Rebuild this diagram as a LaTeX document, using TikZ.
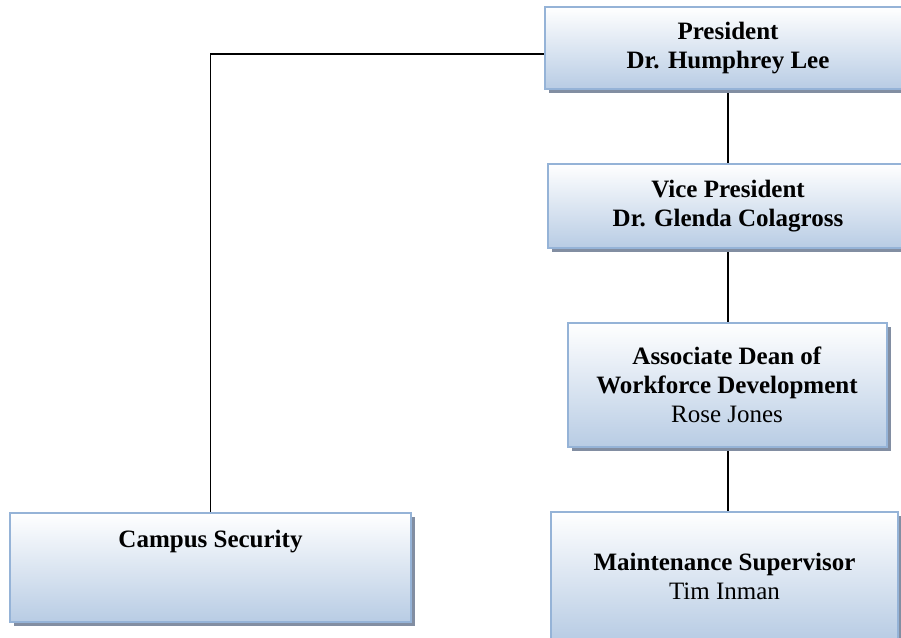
\documentclass[tikz,border=0pt]{standalone}
\usepackage{fontspec}
\setmainfont{Liberation Serif}
\usetikzlibrary{shadows,backgrounds}
\definecolor{boxline}{RGB}{149,179,215}
\definecolor{boxbottom}{RGB}{184,204,228}
\definecolor{shadowgray}{RGB}{130,142,162}
\tikzset{
  orgbox/.style={rectangle, draw=boxline, line width=2pt,
    top color=white, bottom color=boxbottom,
    drop shadow={shadow xshift=4pt, shadow yshift=-4pt, fill=shadowgray, opacity=1},
    align=center, font=\fontsize{25}{29}\selectfont, inner sep=0pt},
  link/.style={draw=black, line width=1.2pt}
}
\begin{document}
\begin{tikzpicture}[x=1pt,y=-1pt]
\useasboundingbox (0,0) rectangle (901,637);
\clip (0,0) rectangle (901,637);
\node[orgbox, minimum width=366pt, minimum height=82pt] (pres) at (728,48)
  {\textbf{President}\\\textbf{Dr. Humphrey Lee}};
\node[orgbox, minimum width=360pt, minimum height=84pt] (vp) at (728,206)
  {\textbf{Vice President}\\\textbf{Dr. Glenda Colagross}};
\node[orgbox, minimum width=319pt, minimum height=124pt] (ad) at (727,385)
  {\textbf{Associate Dean of}\\\textbf{Workforce Development}\\Rose Jones};
\node[orgbox, minimum width=401pt, minimum height=109pt] (camp) at (210.5,567.5)
  {\textbf{Campus Security}\\~\\~};
\node[orgbox, minimum width=347pt, minimum height=128pt] (maint) at (724.5,576)
  {\textbf{Maintenance Supervisor}\\Tim Inman};
\begin{scope}[on background layer]
  \draw[link] (pres.south) -- (pres.south |- vp.north);
  \draw[link] (vp.south) -- (vp.south |- ad.north);
  \draw[link] (vp.south |- ad.south) -- (vp.south |- maint.north);
  \draw[link] ([yshift=-6pt]pres.west) -| (camp.north);
\end{scope}
\end{tikzpicture}
\end{document}
